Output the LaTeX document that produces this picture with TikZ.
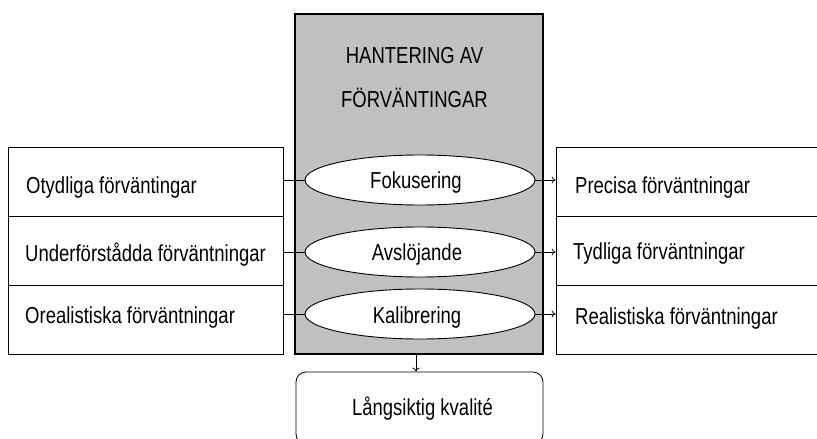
\documentclass[tikz,border=0pt]{standalone}
\usepackage{fontspec}
\setmainfont{Liberation Sans}
\usetikzlibrary{arrows.meta,shapes.geometric}
\newcommand{\tall}[1]{\scalebox{1}[1.25]{#1}}
\begin{document}
\begin{tikzpicture}[x=1pt,y=-1pt,
  every node/.style={font=\fontsize{18.5}{20}\selectfont},
  sidebox/.style={draw=black,line width=0.8pt,minimum width=275pt,minimum height=69pt,inner sep=0pt},
  rsidebox/.style={draw=black,line width=0.8pt,minimum width=290pt,minimum height=69pt,inner sep=0pt},
  lbl/.style={anchor=base west,inner sep=0pt},
  clbl/.style={anchor=base,inner sep=0pt},
  ell/.style={ellipse,draw=black,fill=white,line width=0.9pt,minimum width=230pt,minimum height=50pt,inner sep=0pt},
  conn/.style={line width=0.8pt},
  arr/.style={line width=0.8pt,-{To[length=4pt,width=7pt]}}]
\useasboundingbox (0,0) rectangle (817,439);
% central gray box
\node[draw=black,fill={rgb,255:red,192;green,192;blue,192},line width=1.2pt,minimum width=248pt,minimum height=340pt,inner sep=0pt] (gray) at (419,184) {};
\node[clbl] (title1) at (414.5,63) {\tall{HANTERING AV}};
\node[clbl] (title2) at (414.5,107) {\tall{FÖRVÄNTINGAR}};
% left boxes
\node[sidebox] (l1) at (145.5,182) {};
\node[sidebox] (l2) at (145.5,251) {};
\node[sidebox] (l3) at (145.5,320) {};
\node[lbl] (lt1) at (26,193) {\tall{Otydliga förväntingar}};
\node[lbl] (lt2) at (25,261) {\tall{Underförstådda förväntningar}};
\node[lbl] (lt3) at (25,323) {\tall{Orealistiska förväntningar}};
% right boxes (run past the right edge)
\node[rsidebox] (r1) at (701,182) {};
\node[rsidebox] (r2) at (701,251) {};
\node[rsidebox] (r3) at (701,320) {};
\node[lbl] (rt1) at (575,193) {\tall{Precisa förväntningar}};
\node[lbl] (rt2) at (573,259) {\tall{Tydliga förväntningar}};
\node[lbl] (rt3) at (575,324) {\tall{Realistiska förväntningar}};
% ellipses
\node[ell] (e1) at (420,180) {};
\node[ell] (e2) at (420,252) {};
\node[ell] (e3) at (420,314) {};
\node[clbl] (et1) at (416,188) {\tall{Fokusering}};
\node[clbl] (et2) at (417,260) {\tall{Avslöjande}};
\node[clbl] (et3) at (417,323) {\tall{Kalibrering}};
% connectors
\draw[conn] (l1.east |- e1.west) -- (e1.west);
\draw[conn] (l2.east |- e2.west) -- (e2.west);
\draw[conn] (l3.east |- e3.west) -- (e3.west);
\draw[arr] (e1.east) -- (e1.east -| r1.west);
\draw[arr] (e2.east) -- (e2.east -| r2.west);
\draw[arr] (e3.east) -- (e3.east -| r3.west);
% bottom box (runs past the bottom edge)
\node[draw=black,line width=0.8pt,rounded corners=10pt,minimum width=247pt,minimum height=72pt,inner sep=0pt] (q) at (419.5,408) {};
\node[clbl] (qt) at (422.5,415) {\tall{Långsiktig kvalité}};
\draw[arr] (gray.south -| 416,0) -- (q.north -| 416,0);
\end{tikzpicture}
\end{document}
